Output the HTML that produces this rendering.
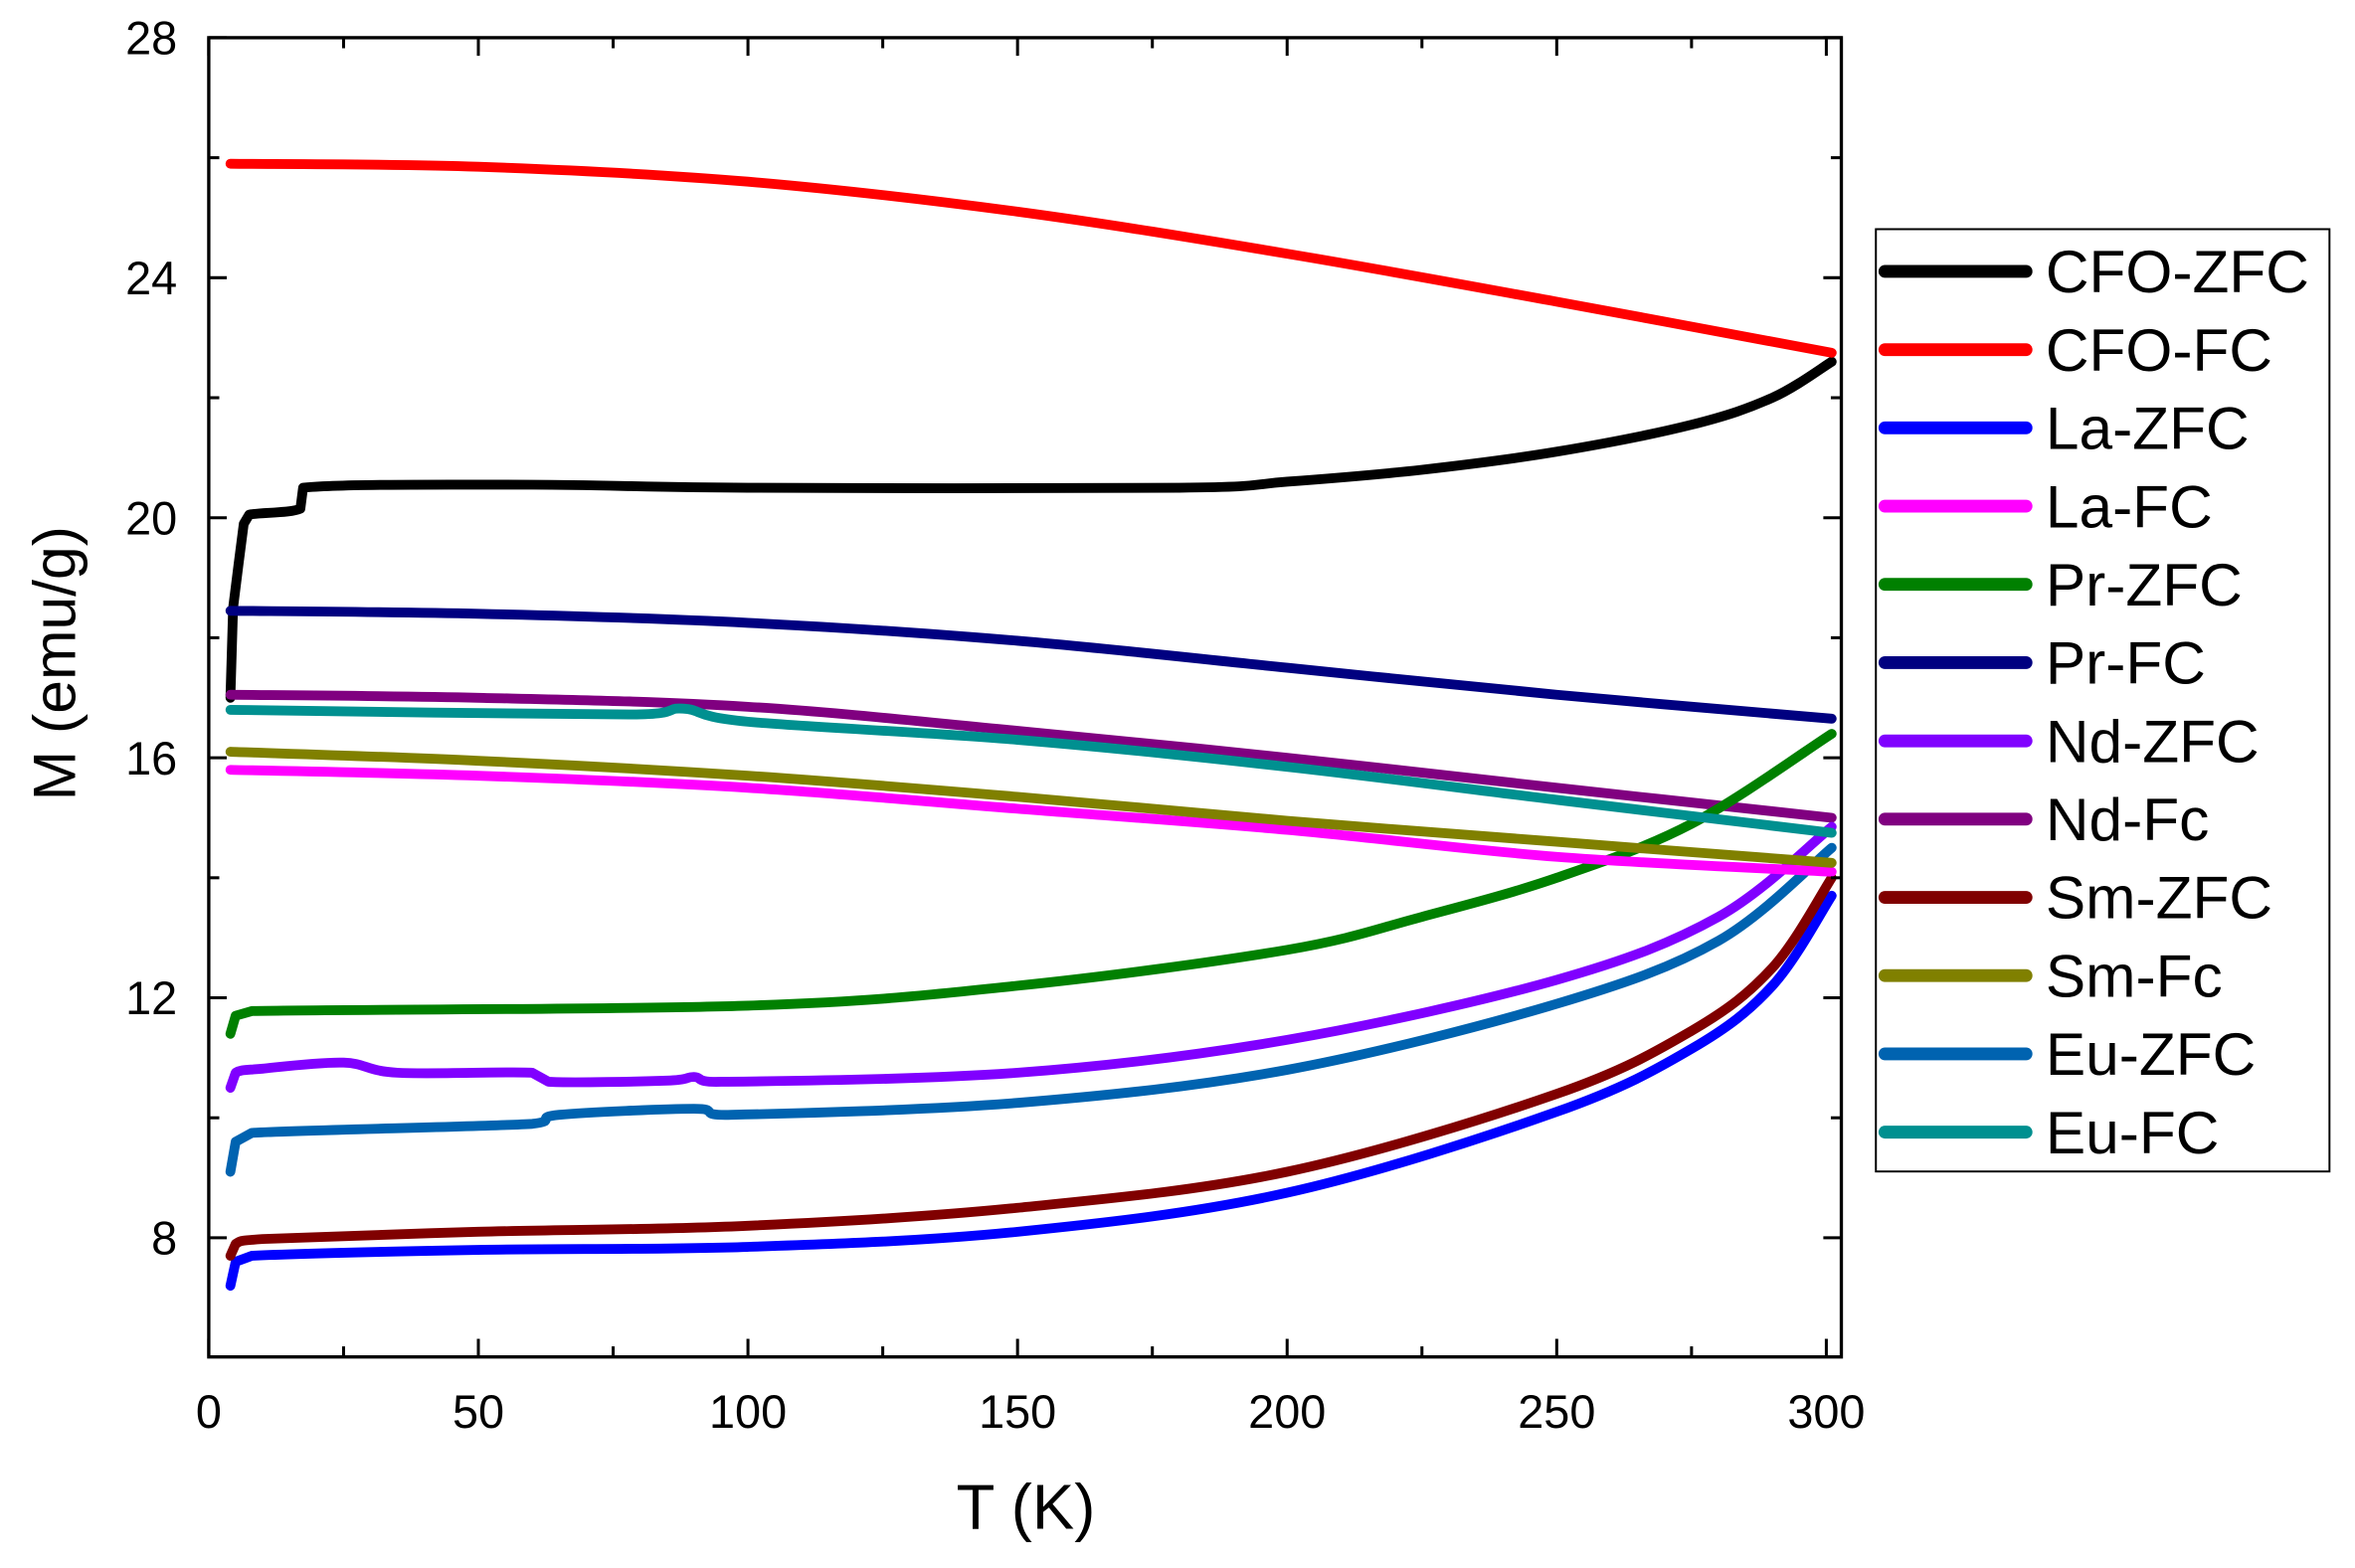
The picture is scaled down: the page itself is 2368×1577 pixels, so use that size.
<!DOCTYPE html>
<html><head><meta charset="utf-8"><style>
html,body{margin:0;padding:0;background:#fff}
svg{display:block}
text{font-family:"Liberation Sans",Arial,sans-serif;fill:#000}
</style></head><body>
<svg id="s" width="2368" height="1577" viewBox="0 0 1568 1040" preserveAspectRatio="none" xmlns="http://www.w3.org/2000/svg">
<rect x="0" y="0" width="1568" height="1040" fill="#fff"/>
<g id="curves" fill="none" stroke-linejoin="round" stroke-linecap="round" stroke-width="6.5"></g>
<rect x="139" y="25" width="1087" height="875" fill="none" stroke="#000" stroke-width="2.2"/>
<g id="ticks" stroke="#000" stroke-width="2"></g>
<g id="labels" font-size="31"></g>
<text x="683" y="1014" font-size="42" text-anchor="middle">T (K)</text>
<text transform="translate(50,440) rotate(-90)" font-size="40" text-anchor="middle">M (emu/g)</text>
<rect x="1249" y="152" width="302" height="625" fill="#fff" stroke="#000" stroke-width="1.3"/>
<g id="legend" font-size="40"></g>
</svg>
<script>
const NS="http://www.w3.org/2000/svg";
const X=t=>139+3.59*t, Y=m=>821-(m-8)*39.8;
function el(p,tag,a,txt){const e=document.createElementNS(NS,tag);for(const k in a)e.setAttribute(k,a[k]);if(txt!==undefined)e.textContent=txt;p.appendChild(e);return e;}
const series=[
["CFO-ZFC","#000000",[[4,17],[4.5,18.5],[5.5,19.2],[6.5,19.9],[7.5,20.05],[17,20.15],[17.5,20.5],[60,20.55],[100,20.5],[180,20.5],[200,20.6],[225,20.8],[250,21.1],[275,21.55],[290,22.0],[301,22.6]]],
["CFO-FC","#ff0000",[[4,25.9],[50,25.85],[100,25.6],[150,25.1],[200,24.4],[250,23.6],[301,22.75]]],
["La-ZFC","#0000ff",[[4,7.2],[5,7.6],[8,7.7],[50,7.8],[100,7.85],[150,8.1],[200,8.75],[250,10.1],[275,11.15],[290,12.2],[301,13.7]]],
["La-FC","#ff00ff",[[4,15.8],[50,15.7],[100,15.5],[150,15.15],[200,14.8],[250,14.35],[301,14.1]]],
["Pr-ZFC","#008000",[[4,11.4],[5,11.7],[8,11.78],[100,11.87],[150,12.2],[200,12.8],[225,13.35],[250,14.0],[275,14.9],[301,16.4]]],
["Pr-FC","#000080",[[4,18.45],[50,18.4],[100,18.25],[150,17.95],[200,17.5],[250,17.05],[301,16.65]]],
["Nd-ZFC","#8000ff",[[4,10.5],[5,10.75],[10,10.82],[25,10.92],[35,10.75],[60,10.75],[63,10.6],[85,10.62],[90,10.68],[95,10.6],[150,10.75],[200,11.3],[250,12.3],[280,13.35],[301,14.85]]],
["Nd-Fc","#800080",[[4,17.05],[50,17.0],[100,16.85],[150,16.45],[200,16.0],[250,15.5],[301,15.0]]],
["Sm-ZFC","#800000",[[4,7.7],[5,7.9],[10,7.98],[50,8.1],[100,8.2],[150,8.5],[200,9.1],[250,10.4],[275,11.45],[290,12.5],[301,14.0]]],
["Sm-Fc","#808000",[[4,16.1],[50,15.95],[100,15.7],[150,15.35],[200,14.95],[250,14.6],[301,14.25]]],
["Eu-ZFC","#0063b0",[[4,9.1],[5,9.6],[8,9.75],[60,9.9],[65,10.05],[90,10.15],[97,10.05],[150,10.25],[200,10.8],[250,11.9],[280,12.95],[301,14.5]]],
["Eu-FC","#009090",[[4,16.8],[78,16.72],[88,16.82],[100,16.6],[150,16.3],[200,15.85],[250,15.3],[301,14.75]]]
];
function path(pts){
 const P=pts.map(p=>[X(p[0]),Y(p[1])]);
 let d="M"+P[0][0].toFixed(1)+","+P[0][1].toFixed(1);
 for(let i=0;i<P.length-1;i++){
  const p0=P[Math.max(i-1,0)],p1=P[i],p2=P[i+1],p3=P[Math.min(i+2,P.length-1)];
  const seg=p2[0]-p1[0];
  if(seg<15){d+=" L"+p2[0].toFixed(1)+","+p2[1].toFixed(1);continue;}
  const c1=[p1[0]+(p2[0]-p0[0])/6,p1[1]+(p2[1]-p0[1])/6],c2=[p2[0]-(p3[0]-p1[0])/6,p2[1]-(p3[1]-p1[1])/6];
  c1[0]=Math.min(Math.max(c1[0],p1[0]),p2[0]);c2[0]=Math.min(Math.max(c2[0],p1[0]),p2[0]);
  d+=" C"+c1.map(v=>v.toFixed(1))+" "+c2.map(v=>v.toFixed(1))+" "+p2.map(v=>v.toFixed(1));
 }
 return d;
}
const cg=document.getElementById("curves");
const order=[0,1,5,7,10,2,8,6,4,3,9,11];
order.forEach(i=>{const s=series[i];el(cg,"path",{d:path(s[2]),stroke:s[1]});});
const tg=document.getElementById("ticks"),lg=document.getElementById("labels");
for(let t=0;t<=300;t+=25){const x=X(t),L=t%50==0?12:7;el(tg,"line",{x1:x,y1:900,x2:x,y2:900-L});el(tg,"line",{x1:x,y1:25,x2:x,y2:25+L});if(t%50==0)el(lg,"text",{x:x,y:947,"text-anchor":"middle"},t);}
for(let m=8;m<=28;m+=2){const y=Y(m),L=m%4==0?12:7;el(tg,"line",{x1:139,y1:y,x2:139+L,y2:y});el(tg,"line",{x1:1226,y1:y,x2:1226-L,y2:y});if(m%4==0)el(lg,"text",{x:118,y:y+11,"text-anchor":"end"},m);}
const leg=document.getElementById("legend");
series.forEach((s,i)=>{const y=180+i*51.9;el(leg,"line",{x1:1255,y1:y,x2:1349,y2:y,stroke:s[1],"stroke-width":8.5,"stroke-linecap":"round"});el(leg,"text",{x:1362,y:y+14},s[0]);});
</script>
</body></html>
